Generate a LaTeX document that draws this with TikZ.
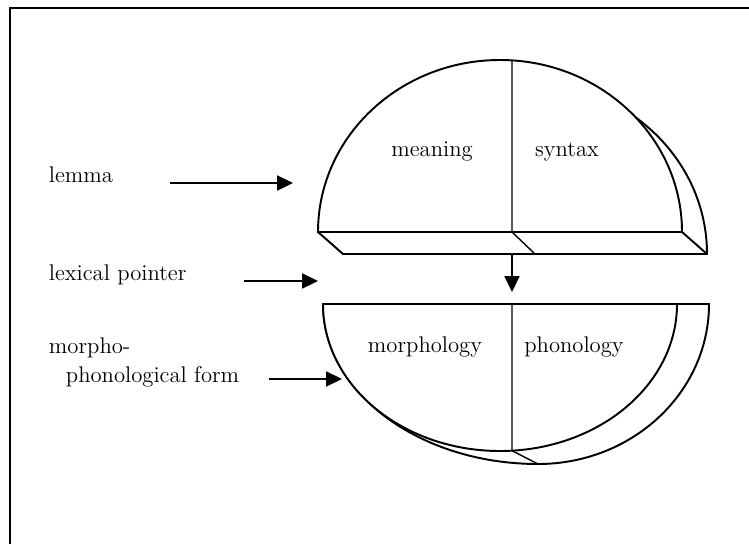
\documentclass[tikz,border=0pt]{standalone}
\usetikzlibrary{arrows.meta,positioning}
\tikzset{every picture/.style={line width=1.1pt}}
\tikzset{
  ptr/.style={-{Triangle[length=9pt,width=8.5pt]},line width=1pt},
  lbl/.style={inner sep=0pt,font=\fontsize{12.9}{15}\selectfont},
  part/.style={draw,fill=white,line join=round},
  split/.style={line width=0.8pt}
}

\begin{document}
\begin{tikzpicture}[x=0.02cm,y=-0.02cm]
    \useasboundingbox (0,0) rectangle (749,544);
    % Frame (runs off at right and bottom)
    \draw (10,544) -- (10,8) -- (749,8);

    % Upper half: back rim, front face, slab
    \draw[part] (343,254) arc (180:360:182 and 172) -- cycle;
    \draw[part] (318,232) arc (180:360:182 and 172) -- cycle;
    \draw[part] (318,232) -- (682,232) -- (707,254) -- (343,254) -- cycle;
    \draw[split] (512,60.4) -- (512,232) -- (535,254);

    % Lower half: back rim, front face
    \draw[part] (323,304) arc (180:90:215 and 160) arc (90:0:171 and 160) -- cycle;
    \draw[part] (323,304) arc (180:0:177 and 147) -- cycle;
    \draw (323,304) -- (709,304);
    \draw[split] (512,304) -- (512,450.7) -- (538,464);

    % Parts of the entry
    \node[lbl,anchor=base] (meaning) at (432,156) {meaning};
    \node[lbl,anchor=base] (syntax) at (567,156) {syntax};
    \node[lbl,anchor=base] (morph) at (425,352) {morphology};
    \node[lbl,anchor=base] (phon) at (574,352) {phonology};

    % Side labels
    \node[lbl,anchor=base west] (lemma) at (48,182) {lemma};
    \node[lbl,anchor=base west] (pointer) at (48,280) {lexical pointer};
    \node[lbl,anchor=base west] (form) at (48,353) {morpho-};
    \node[lbl,anchor=base west] (form2) at (65,382) {phonological form};

    % Arrows
    \coordinate (lemma from) at (170,183);
    \coordinate (lemma to) at (293,183);
    \coordinate (pointer from) at (244,281);
    \coordinate (pointer to) at (318,281);
    \coordinate (form from) at (269,379);
    \coordinate (form to) at (342,379);
    \coordinate (slab bottom) at (512,254);
    \coordinate (bowl top) at (512,292);
    \draw[ptr] (lemma from) -- (lemma to);
    \draw[ptr] (pointer from) -- (pointer to);
    \draw[ptr] (form from) -- (form to);
    \draw[ptr] (slab bottom) -- (bowl top);
\end{tikzpicture}
\end{document}
